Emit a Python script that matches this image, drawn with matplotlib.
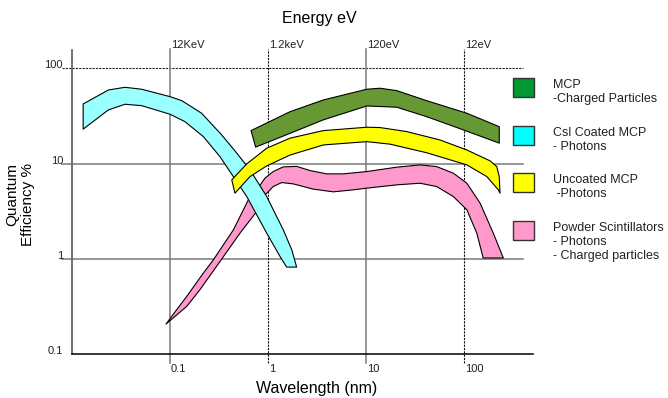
import matplotlib
matplotlib.use('Agg')
import matplotlib.pyplot as plt
from matplotlib.patches import Polygon, Rectangle
import matplotlib.transforms as mtransforms
from matplotlib.ticker import NullLocator

W, H = 668, 398

# ---------------- data (wavelength nm, quantum efficiency %) ----------------
csi_upper_wl = [0.0130, 0.0235, 0.0347, 0.0514, 0.100, 0.132, 0.210, 0.337, 0.460, 0.655, 0.97, 1.43, 1.75, 1.96]
csi_upper_qe = [42.3, 59.3, 63.3, 60.4, 50.5, 45.8, 33.8, 20.0, 13.6, 8.6, 4.51, 2.02, 1.24, 0.818]
csi_lower_wl = [0.0130, 0.0235, 0.0347, 0.0514, 0.100, 0.142, 0.219, 0.324, 0.409, 0.607, 0.97, 1.325, 1.55]
csi_lower_qe = [23.0, 36.6, 42.0, 40.6, 33.0, 27.6, 19.2, 11.8, 8.25, 4.51, 1.86, 1.06, 0.818]

mcp_upper_wl = [0.672, 1.68, 3.67, 10.2, 13.9, 20.6, 41.6, 107, 229]
mcp_upper_qe = [22.2, 35.1, 46.6, 60.4, 61.9, 58.4, 45.8, 33.8, 24.4]
mcp_lower_wl = [0.748, 1.68, 3.67, 10.2, 20.6, 41.6, 98.4, 229]
mcp_lower_qe = [14.9, 20.8, 28.8, 40.3, 39.1, 31.1, 22.6, 16.4]

unc_upper_wl = [0.427, 0.607, 0.97, 1.68, 3.67, 10.2, 13.9, 26.0, 56.9, 107, 184, 216, 229, 233]
unc_upper_qe = [6.75, 9.93, 14.5, 18.5, 22.2, 24.1, 23.9, 21.7, 17.7, 13.9, 10.7, 9.3, 7.3, 4.89]
unc_lower_wl = [0.460, 0.655, 0.97, 1.68, 3.67, 10.2, 17.6, 41.6, 107, 171, 224, 233]
unc_lower_qe = [4.89, 7.3, 9.46, 12.3, 15.7, 17.0, 16.0, 13.0, 9.69, 7.3, 5.30, 4.89]

pow_upper_wl = [0.0910, 0.117, 0.148, 0.219, 0.277, 0.443, 0.630, 0.767, 0.931, 1.13, 1.43, 1.96,
                2.68, 3.97, 5.87, 10.2, 20.6, 35.6, 52.6, 77.8, 107, 146, 199, 252]
pow_upper_qe = [0.206, 0.292, 0.402, 0.708, 0.975, 2.01, 4.16, 5.30, 7.03, 8.25, 9.23, 9.35,
                8.45, 7.80, 7.80, 8.25, 9.17, 9.69, 9.30, 7.93, 6.22, 3.84, 1.86, 1.02]
pow_lower_wl = [0.0910, 0.148, 0.202, 0.324, 0.518, 0.767, 0.895, 1.01, 1.13, 1.38, 1.81, 2.90,
                4.64, 7.42, 10.2, 20.6, 35.6, 52.6, 77.8, 107, 135, 157]
pow_lower_qe = [0.206, 0.316, 0.473, 0.938, 1.86, 3.14, 4.51, 5.09, 5.74, 6.32, 6.12, 5.39,
                5.05, 5.30, 5.52, 5.98, 6.22, 5.74, 4.51, 3.27, 1.86, 1.02]

y_ticks = [0.1, 1, 10, 100]
y_tick_labels = ['0.1', '1', '10', '100']
x_ticks = [0.1, 1, 10, 100]
x_tick_labels = ['0.1', '1', '10', '100']
energy_labels = ['12KeV', '1.2keV', '120eV', '12eV']

legend_labels = ['MCP\n-Charged Particles', 'Csl Coated MCP\n- Photons',
                 'Uncoated MCP\n -Photons', 'Powder Scintillators\n- Photons\n- Charged particles']
legend_colors = ['#009933', '#00FFFF', '#FFFF00', '#FF99CC']

band_colors = {'pow': '#FF99CC', 'csi': '#99FFFF', 'unc': '#FFFF00', 'mcp': '#669933'}

# ---------------- figure ----------------
plt.rcParams['font.family'] = ['Liberation Sans', 'DejaVu Sans']
fig = plt.figure(figsize=(W / 100, H / 100), dpi=100)
ax_l, ax_r, ax_t, ax_b = 72, 533, 50, 354
ax = fig.add_axes([ax_l / W, 1 - ax_b / H, (ax_r - ax_l) / W, (ax_b - ax_t) / H])
ax.set_xscale('log')
ax.set_yscale('log')
ax.set_xlim(0.01, 506)
ax.set_ylim(0.1, 156)
ax.spines['top'].set_visible(False)
ax.spines['right'].set_visible(False)
ax.spines['left'].set_color('#666666')
ax.spines['left'].set_linewidth(1.3)
ax.spines['bottom'].set_color('#000000')
ax.spines['bottom'].set_linewidth(1.1)
for axis in (ax.xaxis, ax.yaxis):
    axis.set_major_locator(NullLocator())
    axis.set_minor_locator(NullLocator())

tx_y = mtransforms.blended_transform_factory(ax.transAxes, ax.transData)
tx_x = mtransforms.blended_transform_factory(ax.transData, ax.transAxes)

def axfrac_x(px):
    return (px - ax_l) / (ax_r - ax_l)

def axfrac_y(py):
    return (ax_b - py) / (ax_b - ax_t)

# horizontal grid lines
for v in y_ticks[1:]:
    if v == 100:
        ax.plot([axfrac_x(62), axfrac_x(523)], [v, v], transform=tx_y, color='#222222',
                lw=0.8, ls=(0, (2, 1)), clip_on=False, zorder=1)
    else:
        ax.plot([axfrac_x(62), axfrac_x(523)], [v, v], transform=tx_y, color='#7a7a7a',
                lw=1.1, clip_on=False, zorder=1)
# vertical grid lines
for v in x_ticks:
    if v in (1, 100):
        ax.plot([v, v], [axfrac_y(363), axfrac_y(49)], transform=tx_x, color='#111111',
                lw=0.8, ls=(0, (2, 1)), clip_on=False, zorder=1)
    else:
        ax.plot([v, v], [axfrac_y(363), axfrac_y(49)], transform=tx_x, color='#7a7a7a',
                lw=1.1, clip_on=False, zorder=1)

# bands
def band(uw, uq, lw_, lq, color, z):
    verts = list(zip(uw, uq)) + list(zip(lw_[::-1], lq[::-1]))
    ax.add_patch(Polygon(verts, closed=True, facecolor=color, edgecolor='black',
                         lw=0.8, zorder=z, joinstyle='round'))

band(pow_upper_wl, pow_upper_qe, pow_lower_wl, pow_lower_qe, band_colors['pow'], 2)
band(csi_upper_wl, csi_upper_qe, csi_lower_wl, csi_lower_qe, band_colors['csi'], 3)
band(unc_upper_wl, unc_upper_qe, unc_lower_wl, unc_lower_qe, band_colors['unc'], 4)
band(mcp_upper_wl, mcp_upper_qe, mcp_lower_wl, mcp_lower_qe, band_colors['mcp'], 5)

# tick labels
tick_fs = 8
for v, lab in zip(y_ticks, y_tick_labels):
    ax.text(axfrac_x(63), v, lab, transform=tx_y, ha='right', va='baseline',
            fontsize=tick_fs, color='#222222')
for v, lab in zip(x_ticks, x_tick_labels):
    ax.text(v * 1.025, axfrac_y(369), lab, transform=tx_x, ha='left', va='center',
            fontsize=tick_fs, color='#222222')
for v, lab in zip(x_ticks, energy_labels):
    ax.text(v * 1.025, axfrac_y(45), lab, transform=tx_x, ha='left', va='center',
            fontsize=tick_fs, color='#222222')

# axis titles
fig.text(319 / W, 1 - 18 / H, 'Energy eV', ha='center', va='center', fontsize=11.5)
fig.text(317 / W, 1 - 388 / H, 'Wavelength (nm)', ha='center', va='center', fontsize=11.5)
fig.text(20 / W, 1 - 163 / H, 'Quantum\nEfficiency %', ha='center', va='top',
         rotation=90, fontsize=11, linespacing=1.2, multialignment='right')

# legend
patch_tops = [78, 126, 173, 221]
for top, col, lab in zip(patch_tops, legend_colors, legend_labels):
    fig.add_artist(Rectangle((513 / W, 1 - (top + 19) / H), 21 / W, 19 / H,
                             transform=fig.transFigure, facecolor=col,
                             edgecolor='#333333', lw=1.0))
    fig.text(553 / W, 1 - (top + 1) / H, lab, ha='left', va='top', fontsize=9,
             linespacing=1.25, color='#222222')

fig.savefig('out.png', dpi=100)
